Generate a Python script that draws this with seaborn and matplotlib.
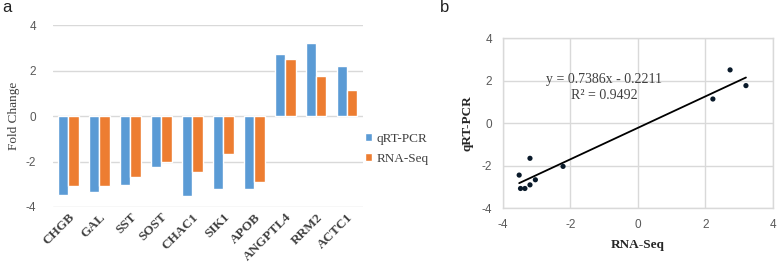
import pandas as pd
import numpy as np
import seaborn as sns
import matplotlib.pyplot as plt

genes = ["CHGB", "GAL", "SST", "SOST", "CHAC1", "SIK1", "APOB", "ANGPTL4", "RRM2", "ACTC1"]
qrt_pcr = [-3.48, -3.35, -3.04, -2.22, -3.52, -3.20, -3.20, 2.73, 3.20, 2.22]
rna_seq = [-3.08, -3.08, -2.67, -2.04, -2.45, -1.66, -2.91, 2.50, 1.76, 1.13]

blue = "#5B9BD5"
orange = "#ED7D31"
grid_c = "#D9D9D9"
tick_c = "#595959"
serif = ["Liberation Serif", "DejaVu Serif"]

sns.set_theme(style="white")
plt.rcParams["font.family"] = ["Liberation Sans", "DejaVu Sans"]
plt.rcParams["axes.unicode_minus"] = False

df = pd.DataFrame({"gene": genes * 2,
                   "value": qrt_pcr + rna_seq,
                   "method": ["qRT-PCR"] * len(genes) + ["RNA-Seq"] * len(genes)})

fig = plt.figure(figsize=(7.78, 2.64), dpi=100)
ax1 = fig.add_axes([0.068, 0.216, 0.398, 0.689])
ax2 = fig.add_axes([0.6465, 0.212, 0.347, 0.644])

# panel a: grouped bars
sns.barplot(data=df, x="gene", y="value", hue="method", palette=[blue, orange],
            width=0.67, saturation=1, ax=ax1, legend=True)
ax1.set_ylim(-4, 4)
ax1.set_xlim(-0.5, 9.5)
ax1.set_yticks([-4, -2, 0, 2, 4])
ax1.yaxis.grid(True, color=grid_c, lw=1)
ax1.set_axisbelow(True)
for s in ax1.spines.values():
    s.set_visible(False)
ax1.tick_params(axis="y", colors=tick_c, labelsize=8.5, length=0, pad=12)
ax1.tick_params(axis="x", length=0, pad=3)
ax1.set_xticks(range(len(genes)))
ax1.set_xticklabels(genes, rotation=45, ha="right", va="top", rotation_mode="anchor",
                    family=serif, fontweight="bold", fontsize=9.5, color="#404040")
ax1.set_xlabel("")
ax1.set_ylabel("Fold Change", family=serif, fontsize=9.5, color="#404040", labelpad=4)
leg = ax1.legend(loc="center left", bbox_to_anchor=(0.985, 0.32), frameon=False,
                 prop={"family": serif, "size": 9.5}, handlelength=0.6, handleheight=0.6,
                 handletextpad=0.3, labelspacing=0.6, borderpad=0)
for t in leg.get_texts():
    t.set_color("#404040")
fig.text(0.003, 0.955, "a", fontsize=12, color="#222222")

# panel b: correlation
sns.scatterplot(x=qrt_pcr, y=rna_seq, color="#0a1a2a", s=14, edgecolor="none", ax=ax2, zorder=3)
coef = np.polyfit(qrt_pcr, rna_seq, 1)
xs = np.array([min(qrt_pcr), max(qrt_pcr)])
sns.lineplot(x=xs, y=coef[0] * xs + coef[1], color="black", lw=1.3, ax=ax2)
ax2.set_xlim(-4, 4)
ax2.set_ylim(-4, 4)
ax2.set_xticks([-4, -2, 0, 2, 4])
ax2.set_yticks([-4, -2, 0, 2, 4])
ax2.grid(True, color=grid_c, lw=1)
ax2.set_axisbelow(True)
for s in ax2.spines.values():
    s.set_color(grid_c)
    s.set_linewidth(1)
ax2.tick_params(colors=tick_c, labelsize=8.5, length=0, pad=8)
ax2.set_xlabel("RNA-Seq", family=serif, fontweight="bold", fontsize=9.5, labelpad=6)
ax2.set_ylabel("qRT-PCR", family=serif, fontweight="bold", fontsize=9.5, labelpad=6)
ax2.text(-1.0, 2.07, "y = 0.7386x - 0.2211", family=serif, fontsize=10, color="#404040",
         ha="center", va="center")
ax2.text(-1.0, 1.28, "R² = 0.9492", family=serif, fontsize=10, color="#404040",
         ha="center", va="center")
fig.text(0.565, 0.955, "b", fontsize=12, color="#222222")

fig.savefig("out.png", dpi=100)
